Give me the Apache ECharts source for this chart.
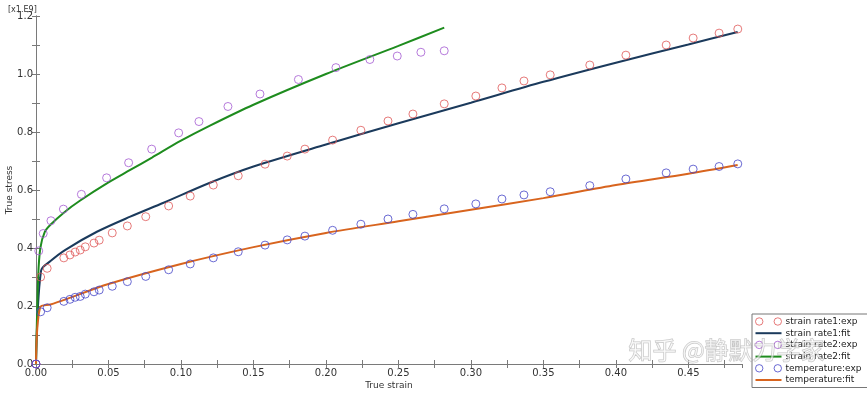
<!DOCTYPE html>
<html>
<head>
<meta charset="utf-8">
<script src="https://cdn.jsdelivr.net/npm/echarts@6/dist/echarts.min.js"></script>
<style>
html,body{margin:0;padding:0;background:#fff;}
#chart{width:867px;height:393px;}
</style>
</head>
<body>
<div id="chart"></div>
<script>
// ---- data (stress in units of 1e9) ----
const strainExp1 = [0, 0.0032, 0.0077, 0.0192, 0.0234, 0.027, 0.0305, 0.034, 0.040, 0.0436,
  0.0526, 0.063, 0.0757, 0.0915, 0.1064, 0.1223, 0.1395, 0.158, 0.1733, 0.1855,
  0.2046, 0.2241, 0.2428, 0.26, 0.2816, 0.3034, 0.3214, 0.3366, 0.3547, 0.382,
  0.4069, 0.4347, 0.4533, 0.4712, 0.4841];
const rate1Exp = [0, 0.30, 0.33, 0.366, 0.376, 0.386, 0.393, 0.404, 0.417, 0.427,
  0.452, 0.476, 0.508, 0.545, 0.579, 0.617, 0.649, 0.689, 0.717, 0.741,
  0.772, 0.806, 0.838, 0.862, 0.897, 0.924, 0.952, 0.976, 0.997, 1.031,
  1.065, 1.100, 1.124, 1.141, 1.155];
const tempExp = [0, 0.180, 0.194, 0.216, 0.223, 0.230, 0.233, 0.241, 0.249, 0.255,
  0.268, 0.284, 0.302, 0.325, 0.345, 0.366, 0.387, 0.410, 0.428, 0.441,
  0.461, 0.482, 0.500, 0.516, 0.535, 0.552, 0.569, 0.583, 0.594, 0.615,
  0.638, 0.659, 0.672, 0.681, 0.690];
const strainExp2 = [0, 0.0019, 0.005, 0.0103, 0.0189, 0.0313, 0.0487, 0.0639, 0.0798, 0.0984,
  0.1124, 0.1324, 0.1545, 0.181, 0.2069, 0.2303, 0.2492, 0.2655, 0.2816];
const rate2Exp = [0, 0.39, 0.45, 0.494, 0.534, 0.585, 0.642, 0.694, 0.741, 0.797,
  0.836, 0.888, 0.931, 0.981, 1.022, 1.050, 1.062, 1.075, 1.080];

const strainFit1 = [0, 0.0035, 0.01, 0.02, 0.042, 0.065, 0.088, 0.12, 0.15, 0.2, 0.25, 0.3, 0.35, 0.4, 0.45, 0.484];
const rate1Fit   = [0, 0.322, 0.355, 0.393, 0.456, 0.508, 0.556, 0.625, 0.681, 0.757, 0.830, 0.901, 0.973, 1.039, 1.102, 1.145];
const strainFit2 = [0, 0.0015, 0.003, 0.006, 0.01, 0.02, 0.03, 0.05, 0.065, 0.08, 0.1, 0.12, 0.15, 0.2, 0.25, 0.2816];
const rate2Fit   = [0, 0.30, 0.40, 0.455, 0.48, 0.525, 0.562, 0.626, 0.669, 0.712, 0.77, 0.822, 0.894, 1.0, 1.097, 1.16];
const strainFitT = [0, 0.0028, 0.01, 0.02, 0.05, 0.1, 0.15, 0.2, 0.25, 0.3, 0.35, 0.4, 0.45, 0.484];
const tempFit    = [0, 0.195, 0.205, 0.222, 0.276, 0.345, 0.403, 0.452, 0.492, 0.532, 0.572, 0.617, 0.656, 0.686];

const names = ['strain rate1:exp', 'strain rate1:fit', 'strain rate2:exp', 'strain rate2:fit', 'temperature:exp', 'temperature:fit'];
const colors = ['#e05a5a', '#1b3a5c', '#a45ad2', '#1e8c1e', '#4646c8', '#d8641e'];

const zip = (xs, ys) => xs.map((x, i) => [x, ys[i]]);

const twoCircles = 'path://M1,5a4,4 0 1,0 8,0a4,4 0 1,0 -8,0M21,5a4,4 0 1,0 8,0a4,4 0 1,0 -8,0';
const lineIcon = 'path://M0,4h26v2h-26z';

const axisFont = {fontFamily: 'DejaVu Sans', fontSize: 10, color: '#333'};
const lineCol = '#7a7a7a';

function expSeries(i, data) {
  return {
    name: names[i], type: 'scatter', data: data, symbol: 'circle', symbolSize: 8,
    itemStyle: {color: 'rgba(0,0,0,0)', borderColor: colors[i], borderWidth: 1}, z: 3
  };
}
function fitSeries(i, data) {
  return {
    name: names[i], type: 'line', data: data, showSymbol: false, symbol: 'none', smooth: 0.3,
    lineStyle: {color: colors[i], width: 2}, itemStyle: {color: colors[i]}, z: 2
  };
}
const xFmt = v => (Math.round(v * 1000) % 50 === 0 ? v.toFixed(2) : '');
const yFmt = v => (Math.round(v * 10) % 2 === 0 ? v.toFixed(1) : '');
const tick = () => ({show: true, inside: true, length: 4, lineStyle: {color: lineCol}});

const chart = echarts.init(document.getElementById('chart'), null, {renderer: 'canvas'});
chart.setOption({
  animation: false,
  backgroundColor: '#fff',
  grid: {left: 36, right: 125, top: 16, bottom: 29, containLabel: false, outerBoundsMode: 'none'},
  title: {text: '[x1.E9]', left: 3, top: 1, textStyle: {fontFamily: 'DejaVu Sans', fontSize: 8, fontWeight: 'normal', color: '#333'}},
  xAxis: [{
    type: 'value', min: 0, max: 0.487, interval: 0.025, position: 'bottom',
    name: 'True strain', nameLocation: 'middle', nameGap: 17, nameMoveOverlap: false,
    nameTextStyle: {fontFamily: 'DejaVu Sans', fontSize: 9, color: '#333'},
    axisLine: {show: true, lineStyle: {color: lineCol}},
    axisTick: tick(),
    axisLabel: Object.assign({formatter: xFmt, margin: 4, showMaxLabel: false}, axisFont),
    splitLine: {show: false}
  }, {
    type: 'value', min: 0, max: 0.487, interval: 0.025, position: 'top',
    axisLine: {show: true, lineStyle: {color: lineCol}},
    axisTick: tick(),
    axisLabel: {show: false}, splitLine: {show: false}
  }],
  yAxis: [{
    type: 'value', min: 0, max: 1.2, interval: 0.1, position: 'left',
    name: 'True stress', nameLocation: 'middle', nameGap: 22, nameMoveOverlap: false,
    nameTextStyle: {fontFamily: 'DejaVu Sans', fontSize: 9, color: '#333'},
    axisLine: {show: true, lineStyle: {color: lineCol}},
    axisTick: tick(),
    axisLabel: Object.assign({formatter: yFmt, margin: 3}, axisFont),
    splitLine: {show: false}
  }, {
    type: 'value', min: 0, max: 1.2, interval: 0.1, position: 'right',
    axisLine: {show: true, lineStyle: {color: lineCol}},
    axisTick: tick(),
    axisLabel: {show: false}, splitLine: {show: false}
  }],
  legend: {
    orient: 'vertical', left: 752, top: 314, width: 114,
    padding: [3, 6, 3, 3], itemGap: 2.7, itemWidth: 26, itemHeight: 10,
    borderColor: '#777', borderWidth: 1, backgroundColor: '#fff',
    textStyle: {fontFamily: 'DejaVu Sans', fontSize: 9, color: '#222', padding: [0, 0, 0, -1]},
    data: names.map((n, i) => (i % 2 === 0)
      ? {name: n, icon: twoCircles, itemStyle: {color: 'rgba(0,0,0,0)', borderColor: colors[i], borderWidth: 1}}
      : {name: n, icon: lineIcon, itemStyle: {color: colors[i], borderWidth: 0}})
  },
  graphic: [{
    type: 'text', left: 628, top: 337, silent: true, z: 100,
    style: {text: '知乎 @静默力学家', font: '24px "Noto Sans CJK SC"', fill: 'rgba(255,255,255,0.55)', stroke: 'rgba(120,120,120,0.45)', lineWidth: 1}
  }],
  series: [
    expSeries(0, zip(strainExp1, rate1Exp)),
    fitSeries(1, zip(strainFit1, rate1Fit)),
    expSeries(2, zip(strainExp2, rate2Exp)),
    fitSeries(3, zip(strainFit2, rate2Fit)),
    expSeries(4, zip(strainExp1, tempExp)),
    fitSeries(5, zip(strainFitT, tempFit))
  ]
});
</script>
</body>
</html>
